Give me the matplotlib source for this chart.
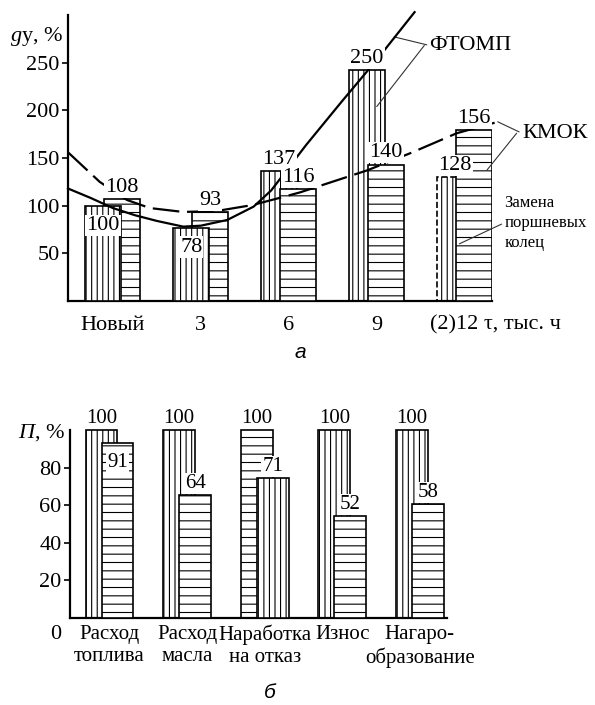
import matplotlib
matplotlib.use('Agg')
import matplotlib.pyplot as plt
import numpy as np

plt.rcParams['font.family'] = ['Liberation Serif', 'DejaVu Serif']
plt.rcParams['mathtext.fontset'] = 'custom'
plt.rcParams['mathtext.rm'] = 'Liberation Serif'
plt.rcParams['mathtext.it'] = 'Liberation Serif:italic'
plt.rcParams['hatch.linewidth'] = 0.8
plt.rcParams['axes.linewidth'] = 1.6

# --- а: ресурс по маслу (gу) по наработке
groups_a = ['Новый', '3', '6', '9', '']
ftomp_lbl = [100, 78, 137, 250, 128]
kmok_lbl = [108, 93, 116, 140, 156]
# высоты столбцов так, как они нарисованы
ftomp_h = [100, 77, 136, 242, 130]
kmok_h = [107, 93, 117, 143, 179]

# кривые
ftomp_x = [-0.51, -0.25, 0.0, 0.25, 0.5, 0.8, 1.0, 1.3, 1.6, 1.8, 2.0, 2.2, 2.6, 3.0, 3.43]
ftomp_y = [118, 108, 97.5, 90, 84, 78, 79, 85, 99, 116, 140, 164, 209, 253, 303]
kmok_x = [-0.51, -0.15, 0.16, 0.42, 0.8, 1.18, 1.59, 1.93, 2.13, 2.89, 3.38, 3.91, 4.34]
kmok_y = [156, 125, 106, 97.5, 93.4, 94.4, 100.7, 109, 114, 137, 155, 176, 187]

# --- б: сравнение показателей
cats_b = ['Расход\nтоплива', 'Расход\nмасла', 'Наработка\nна отказ', 'Износ', 'Нагаро-\nобразование']
base_lbl = [100, 100, 100, 100, 100]
new_lbl = [91, 64, 71, 52, 58]
new_h = [93, 65.3, 74.4, 54.1, 60.5]

W, H = 595, 705
FS = 16
fig = plt.figure(figsize=(W / 100, H / 100), dpi=100)

def px_rect(l, t, r, b):
    return [l / W, 1 - b / H, (r - l) / W, (b - t) / H]

lbl_kw = dict(ha='center', va='center', fontsize=FS, textcoords='offset points',
              bbox=dict(boxstyle='square,pad=0.05', fc='white', ec='none'), zorder=6)

# ================= а =================
ax = fig.add_axes(px_rect(68, 15, 492, 301))
x = np.arange(len(groups_a))
w = 0.41
for i in range(len(x)):
    zv, zh = (3, 2) if i < 2 else (2, 3)
    ax.bar(x[i] - 0.11, ftomp_h[i], w, facecolor='white', edgecolor='black', hatch='|||',
           lw=1.2, zorder=zv, linestyle='--' if i == 4 else '-')
    ax.bar(x[i] + 0.105, kmok_h[i], w, facecolor='white', edgecolor='black', hatch='--',
           lw=1.2, zorder=zh)
    off = -14 if i < 2 else 8.6
    ax.annotate(str(ftomp_lbl[i]), (x[i] - 0.11, ftomp_h[i]), xytext=(0, off), **lbl_kw)
    ax.annotate(str(kmok_lbl[i]), (x[i] + 0.105, kmok_h[i]), xytext=(0, 8.6), **lbl_kw)

ax.plot(ftomp_x, ftomp_y, color='black', lw=1.6, zorder=4, clip_on=False)
ax.plot(kmok_x, kmok_y, color='black', lw=1.6, dashes=(12, 3.5), zorder=4, clip_on=False)

ax.set_xlim(-0.51, 4.31)
ax.set_ylim(0, 300)
ax.set_yticks([50, 100, 150, 200, 250])
ax.set_xticks(x)
ax.set_xticklabels(groups_a)
ax.tick_params(axis='y', direction='out', length=4, width=1.2, labelsize=FS, pad=2)
ax.tick_params(axis='x', direction='in', length=4, width=1.0, labelsize=FS, pad=11)
for s in ['top', 'right']:
    ax.spines[s].set_visible(False)

ax.text(3.6, -0.085, '(2)12 τ, тыс. ч', transform=ax.get_xaxis_transform(),
        ha='left', va='center', fontsize=FS)

ann = dict(color='#333333', lw=0.8)
ax.annotate('ФТОМП', xy=(3.20, 277), xytext=(3.60, 268), fontsize=FS, va='center',
            arrowprops=dict(arrowstyle='-', shrinkA=0, shrinkB=0, relpos=(0, 0.5), **ann),
            annotation_clip=False)
ax.annotate('', xy=(3.0, 204), xytext=(3.54, 268),
            arrowprops=dict(arrowstyle='-', shrinkA=0, shrinkB=0, **ann), annotation_clip=False)
ax.annotate('КМОК', xy=(4.375, 188), xytext=(4.65, 176), fontsize=FS, va='center',
            arrowprops=dict(arrowstyle='-', shrinkA=0, shrinkB=0, relpos=(0, 0.5), **ann),
            annotation_clip=False)
ax.annotate('', xy=(4.25, 137), xytext=(4.59, 176),
            arrowprops=dict(arrowstyle='-', shrinkA=0, shrinkB=0, **ann), annotation_clip=False)
ax.annotate('Замена\nпоршневых\nколец', xy=(3.94, 60), xytext=(4.45, 82), fontsize=12,
            va='center', ha='left', linespacing=1.35,
            arrowprops=dict(arrowstyle='-', shrinkA=0, shrinkB=0, relpos=(0, 0.5), **ann),
            annotation_clip=False)

fig.text(10 / W, 1 - 36 / H, r'$g$у, %', fontsize=FS, ha='left', va='center')
fig.text(300 / W, 1 - 352 / H, 'а', fontsize=15, style='italic', family='Liberation Sans',
         ha='center', va='center')

# ================= б =================
bx = fig.add_axes(px_rect(70, 430, 447, 618))
xb = np.arange(len(cats_b))
hatch_first = ['|||', '|||', '--', '|||', '|||']
hatch_second = ['--', '--', '|||', '--', '--']
for i in range(len(xb)):
    bx.bar(xb[i] - 0.103, base_lbl[i], w, facecolor='white', edgecolor='black',
           hatch=hatch_first[i], lw=1.2, zorder=2, clip_on=False)
    bx.bar(xb[i] + 0.103, new_h[i], w, facecolor='white', edgecolor='black',
           hatch=hatch_second[i], lw=1.2, zorder=3)
    bx.annotate(str(base_lbl[i]), (xb[i] - 0.103, base_lbl[i]), xytext=(0, 8.6),
                annotation_clip=False, **dict(lbl_kw, fontsize=15))
    off = -14 if i == 0 else 8.2
    bx.annotate(str(new_lbl[i]), (xb[i] + 0.103, new_h[i]), xytext=(0, off),
                **dict(lbl_kw, fontsize=15))

bx.set_xlim(-0.51, 4.35)
bx.set_ylim(0, 100)
bx.set_yticks([20, 40, 60, 80])
bx.set_xticks(xb)
bx.set_xticklabels(cats_b, linespacing=1.2)
bx.tick_params(axis='y', direction='out', length=4, width=1.2, labelsize=FS, pad=2)
bx.tick_params(axis='x', length=0, labelsize=15, pad=5)
for s in ['top', 'right']:
    bx.spines[s].set_visible(False)
bx.text(-0.70, -0.09, '0', transform=bx.get_xaxis_transform(), ha='center', va='center',
        fontsize=FS)

fig.text(18 / W, 1 - 433 / H, r'$П$, %', fontsize=FS, ha='left', va='center')
fig.text(270 / W, 1 - 692 / H, 'б', fontsize=15, style='italic', family='Liberation Sans',
         ha='center', va='center')

fig.savefig('out.png', dpi=100)
